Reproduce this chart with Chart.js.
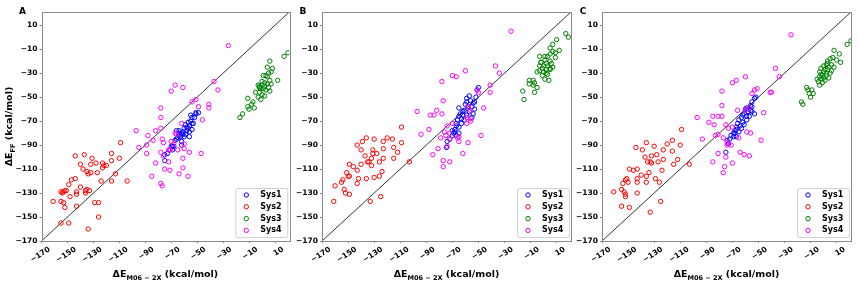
<!DOCTYPE html>
<html>
<head>
<meta charset="utf-8">
<script src="https://cdn.jsdelivr.net/npm/chart.js@4.4.1/dist/chart.umd.min.js"></script>
<style>
  body { margin: 0; background: #fff; width: 859px; height: 286px; position: relative; overflow: hidden; }
  canvas { position: absolute; top: 0; }
</style>
</head>
<body>
<canvas id="chartA" width="291" height="286" style="left:0px"></canvas>
<canvas id="chartB" width="281" height="286" style="left:292px"></canvas>
<canvas id="chartC" width="286" height="286" style="left:573px"></canvas>
<script>
// Axis setup (same for all three panels)
const AXIS_MIN = -170;
const AXIS_MAX = 21;
const TICKS = [-170, -150, -130, -110, -90, -70, -50, -30, -10, 10];
const SERIES_NAMES = ['Sys1', 'Sys2', 'Sys3', 'Sys4'];
const SERIES_COLORS = ['#0000ff', '#ff0000', '#008000', '#ff00ff'];

// Panel A  [x = dE M06-2X, y = dE FF]
const A_SYS1 = [[-75,-103],[-75,-98],[-73,-97],[-71,-94],[-70,-91],[-69,-94],[-68,-91],[-67,-86],[-66,-78],[-65,-84],
  [-64,-82],[-64,-78],[-62,-87],[-62,-90],[-61,-81],[-61,-79],[-60,-76],[-59,-81],[-59,-73],[-58,-78],[-57,-76],
  [-56,-79],[-56,-74],[-56,-83],[-55,-65],[-55,-70],[-54,-67],[-54,-77],[-53,-72],[-52,-67],[-51,-64],[-51,-63],
  [-49,-63],[-60,-83],[-64,-80],[-66,-85],[-69,-91],[-58,-75],[-54,-72],[-62,-80],[-63,-83],[-57,-71]];
const A_SYS2 = [[-161,-137],[-155,-155],[-155,-137],[-155,-129],[-154,-130],[-153,-129],[-152,-128],[-152,-142],[-153,-138],
  [-151,-128],[-149,-155],[-149,-123],[-148,-133],[-147,-119],[-144,-99],[-144,-118],[-143,-129],[-143,-131],[-143,-141],
  [-140,-106],[-140,-125],[-138,-110],[-137,-98],[-136,-128],[-136,-130],[-135,-112],[-135,-127],[-134,-114],[-134,-160],
  [-133,-128],[-132,-113],[-132,-106],[-131,-101],[-129,-138],[-128,-105],[-127,-113],[-126,-138],[-126,-150],[-124,-120],
  [-123,-105],[-123,-109],[-122,-107],[-120,-107],[-116,-97],[-116,-103],[-116,-120],[-113,-114],[-110,-101],[-109,-88],
  [-104,-120]];
const A_SYS3 = [[20,-13],[17,-16],[6,-20],[4,-25],[8,-26],[7,-29],[1,-32],[4,-33],[6,-36],[12,-36],[0,-37],[2,-38],
  [4,-39],[7,-39],[-2,-41],[0,-40],[2,-41],[5,-42],[-2,-42],[-1,-43],[1,-43],[3,-44],[6,-45],[-5,-46],[-2,-46],
  [0,-48],[2,-49],[-3,-50],[-1,-52],[-11,-51],[-7,-54],[-8,-56],[-11,-58],[-6,-59],[-10,-60],[-15,-64],[-17,-67],
  [3,-32],[-3,-40],[5,-30]];
const A_SYS4 = [[-26,-7],[-37,-37],[-34,-44],[-41,-56],[-41,-59],[-49,-58],[-51,-52],[-54,-54],[-46,-69],[-47,-97],
  [-56,-96],[-57,-116],[-61,-101],[-61,-109],[-64,-114],[-61,-42],[-67,-40],[-70,-45],[-78,-59],[-78,-67],[-78,-76],
  [-82,-78],[-88,-82],[-97,-78],[-95,-92],[-89,-90],[-89,-97],[-84,-86],[-82,-105],[-85,-116],[-78,-122],[-77,-124],
  [-77,-85],[-76,-88],[-78,-96],[-76,-99],[-75,-110],[-71,-111],[-72,-104],[-71,-94],[-70,-87],[-68,-89],[-67,-80],
  [-65,-94],[-62,-72],[-60,-89],[-60,-93],[-72,-94],[-66,-81]];

// Panel B
const B_SYS1 = [[-74.5,-92],[-74,-87],[-72,-85],[-70,-82],[-69,-80],[-68,-77],[-67,-74],[-67,-72],[-66,-69],[-65,-66],
  [-64,-64],[-65,-59],[-63,-68],[-62,-62],[-61,-61],[-60,-56],[-59,-54],[-59,-51],[-57,-49],[-56,-53],[-55,-58],
  [-54,-55],[-53,-54],[-52,-50],[-50,-42],[-51,-44],[-54,-64],[-57,-62],[-59,-65],[-61,-69],[-63,-72],[-65,-75],
  [-68,-79],[-70,-78],[-67,-82],[-65,-80],[-55,-67],[-58,-58],[-53,-60],[-62,-65]];
const B_SYS2 = [[-160,-124],[-161,-137],[-155,-121],[-154,-119],[-153,-127],[-152,-130],[-151,-113],[-150,-116],[-149,-131],
  [-149,-116],[-149,-106],[-146,-108],[-143,-90],[-143,-111],[-143,-122],[-142,-118],[-139,-87],[-140,-106],[-137,-99],
  [-136,-84],[-136,-118],[-135,-104],[-134,-104],[-133,-137],[-132,-107],[-132,-101],[-131,-97],[-130,-85],[-130,-117],
  [-128,-97],[-126,-104],[-126,-116],[-125,-133],[-124,-112],[-123,-87],[-123,-93],[-123,-101],[-120,-84],[-116,-85],
  [-115,-92],[-115,-101],[-112,-96],[-109,-88],[-109,-75],[-103,-104],[-131,-94],[-140,-94]];
const B_SYS3 = [[17,3],[19,0],[10,-2],[7,-6],[12,-11],[5,-9],[7,-12],[9,-13],[5,-14],[1,-16],[-3,-16],[3,-16],[9,-17],
  [1,-19],[5,-20],[-2,-21],[2,-22],[6,-22],[-3,-24],[0,-24],[3,-24],[7,-25],[-1,-26],[-3,-28],[2,-27],[5,-27],
  [-5,-29],[0,-29],[2,-30],[-1,-32],[3,-31],[1,-35],[4,-36],[-8,-36],[-11,-36],[-7,-38],[-8,-40],[-11,-39],[-5,-42],
  [-7,-46],[-16,-45],[-15,-52],[5,-26],[-2,-21]];
const B_SYS4 = [[-25,5],[-37,-24],[-34,-30],[-60,-28],[-70,-32],[-67,-33],[-78,-37],[-77,-53],[-51,-44],[-50,-46],
  [-41,-40],[-41,-46],[-46,-59],[-48,-82],[-58,-88],[-62,-97],[-72,-104],[-77,-103],[-77,-108],[-85,-98],[-81,-93],
  [-74,-91],[-76,-79],[-74,-74],[-75,-82],[-79,-84],[-72,-85],[-72,-80],[-70,-72],[-66,-84],[-65,-87],[-65,-83],
  [-59,-67],[-59,-72],[-56,-70],[-56,-61],[-58,-58],[-78,-64],[-82,-61],[-84,-65],[-87,-65],[-88,-77],[-97,-62],
  [-94,-81],[-56,-68]];

// Panel C
const C_SYS1 = [[-75,-96],[-74,-86],[-73,-89],[-72,-85],[-69,-83],[-68,-80],[-68,-78],[-67,-75],[-66,-72],[-65,-69],
  [-63,-67],[-62,-65],[-61,-64],[-60,-60],[-59,-59],[-58,-62],[-56,-57],[-55,-54],[-53,-51],[-52,-50],[-55,-58],
  [-53,-64],[-57,-66],[-59,-69],[-62,-71],[-64,-74],[-67,-77],[-69,-80],[-65,-79],[-63,-76],[-56,-61],[-67,-83],
  [-71,-82],[-59,-66],[-55,-62],[-61,-73]];
const C_SYS2 = [[-161,-129],[-155,-141],[-155,-127],[-154,-122],[-153,-129],[-152,-131],[-152,-133],[-152,-119],[-151,-118],
  [-150,-121],[-149,-110],[-149,-142],[-146,-111],[-144,-92],[-143,-110],[-143,-118],[-143,-121],[-143,-130],[-140,-115],
  [-139,-94],[-137,-100],[-136,-116],[-136,-88],[-136,-121],[-135,-104],[-134,-113],[-133,-146],[-133,-104],[-132,-99],
  [-132,-105],[-130,-91],[-129,-118],[-128,-98],[-127,-104],[-126,-121],[-125,-137],[-124,-111],[-123,-102],[-123,-94],
  [-120,-89],[-116,-86],[-116,-95],[-115,-106],[-112,-102],[-110,-90],[-109,-77],[-103,-106]];
const C_SYS3 = [[18,-6],[21,-3],[8,-11],[12,-14],[5,-18],[7,-17],[10,-19],[3,-20],[13,-21],[6,-23],[0,-24],[2,-23],
  [4,-25],[8,-25],[-2,-26],[1,-27],[3,-27],[6,-28],[-3,-29],[0,-29],[2,-30],[5,-30],[-1,-32],[2,-32],[-3,-33],
  [0,-34],[4,-34],[-5,-35],[-2,-35],[1,-36],[-4,-37],[-1,-38],[-3,-40],[-13,-42],[-12,-44],[-9,-44],[-11,-47],
  [-8,-47],[-10,-50],[-17,-54],[-16,-56],[3,-22],[-2,-31]];
const C_SYS4 = [[-25,2],[-37,-26],[-34,-33],[-60,-33],[-67,-36],[-70,-38],[-78,-45],[-78,-57],[-53,-44],[-51,-43],
  [-41,-46],[-40,-46],[-46,-63],[-48,-86],[-57,-99],[-61,-98],[-64,-96],[-70,-105],[-76,-108],[-77,-113],[-85,-104],
  [-81,-97],[-75,-100],[-74,-90],[-77,-84],[-74,-88],[-71,-90],[-73,-76],[-75,-73],[-70,-75],[-65,-84],[-59,-79],
  [-56,-80],[-60,-61],[-57,-59],[-85,-66],[-81,-66],[-78,-66],[-88,-71],[-84,-73],[-83,-82],[-81,-81],[-93,-85],
  [-97,-67],[-55,-47],[-66,-61]];

const FONT = '"DejaVu Sans", sans-serif';

function fmt(v) {
    return String(v).replace('-', '\u2212');
}

// draws "main" + subscript + rest, centred on (cx, y)
function drawSubText(ctx, main, sub, rest, cx, y) {
    const big = 'bold 9.5px ' + FONT;
    const small = 'bold 6.5px ' + FONT;
    ctx.font = big;
    const w1 = ctx.measureText(main).width;
    const w3 = ctx.measureText(rest).width;
    ctx.font = small;
    const w2 = ctx.measureText(sub).width;
    let x = cx - (w1 + w2 + w3) / 2;
    ctx.textAlign = 'left';
    ctx.textBaseline = 'alphabetic';
    ctx.font = big;
    ctx.fillText(main, x, y);
    x += w1;
    ctx.font = small;
    ctx.fillText(sub, x, y + 2.5);
    x += w2;
    ctx.font = big;
    ctx.fillText(rest, x, y);
}

const panelPlugin = {
    id: 'panel',
    afterDraw(chart, args, o) {
        const ctx = chart.ctx;
        const a = chart.chartArea;
        ctx.save();

        // frame
        ctx.strokeStyle = '#8a8a8a';
        ctx.lineWidth = 1;
        ctx.strokeRect(Math.round(a.left) + 0.5, Math.round(a.top) + 0.5,
            Math.round(a.right - a.left), Math.round(a.bottom - a.top));

        // panel letter
        ctx.fillStyle = '#000';
        ctx.font = 'bold 9px ' + FONT;
        ctx.textAlign = 'center';
        ctx.textBaseline = 'middle';
        ctx.fillText(o.letter, a.left - 19, 12);

        // axis titles
        drawSubText(ctx, '\u0394E', 'M06 \u2212 2X', ' (kcal/mol)', (a.left + a.right) / 2, 277);
        if (o.yTitle) {
            ctx.save();
            ctx.translate(12, (a.top + a.bottom) / 2);
            ctx.rotate(-Math.PI / 2);
            drawSubText(ctx, '\u0394E', 'FF', ' (kcal/mol)', 0, 0);
            ctx.restore();
        }

        // legend, lower right inside the axes
        const w = 52, h = 49;
        const L = a.right - 2 - w, T = a.bottom - 4 - h;
        ctx.fillStyle = 'rgba(255,255,255,0.85)';
        ctx.strokeStyle = '#d0d0d0';
        ctx.beginPath();
        ctx.roundRect(L + 0.5, T + 0.5, w, h, 2);
        ctx.fill();
        ctx.stroke();
        const items = chart.data.datasets.filter(d => d.label);
        items.forEach((d, i) => {
            const yy = T + 7 + i * 11.8;
            ctx.strokeStyle = d.borderColor;
            ctx.lineWidth = 1;
            ctx.beginPath();
            ctx.arc(L + 11, yy, 2.2, 0, Math.PI * 2);
            ctx.stroke();
            ctx.fillStyle = '#000';
            ctx.font = 'bold 8px ' + FONT;
            ctx.textAlign = 'left';
            ctx.textBaseline = 'middle';
            ctx.fillText(d.label, L + 25, yy);
        });
        ctx.restore();
    }
};

function makePanel(id, letter, series, yWidth, rightPad, yTitle) {
    const datasets = [{
        type: 'line',
        data: [{ x: AXIS_MIN, y: AXIS_MIN }, { x: AXIS_MAX, y: AXIS_MAX }],
        borderColor: '#000',
        borderWidth: 0.8,
        pointRadius: 0,
        order: 10
    }];
    series.forEach((pts, i) => {
        datasets.push({
            label: SERIES_NAMES[i],
            data: pts.map(p => ({ x: p[0], y: p[1] })),
            borderColor: SERIES_COLORS[i],
            backgroundColor: 'rgba(0,0,0,0)',
            borderWidth: 1,
            pointRadius: 2.2,
            pointHoverRadius: 2.2,
            order: 5 - i
        });
    });

    const tickFont = { family: FONT, size: 7.5, weight: 'bold' };
    const gridOpts = { drawOnChartArea: false, drawTicks: true, tickLength: 2, color: '#8a8a8a' };

    new Chart(document.getElementById(id), {
        type: 'scatter',
        data: { datasets: datasets },
        plugins: [panelPlugin],
        options: {
            responsive: false,
            animation: false,
            events: [],
            layout: { autoPadding: false, padding: { left: 0, top: 12, right: rightPad, bottom: 0 } },
            plugins: {
                legend: { display: false },
                tooltip: { enabled: false },
                panel: { letter: letter, yTitle: yTitle }
            },
            scales: {
                x: {
                    type: 'linear',
                    min: AXIS_MIN,
                    max: AXIS_MAX,
                    afterBuildTicks: s => { s.ticks = TICKS.map(v => ({ value: v })); },
                    afterFit: s => { s.height = 45; },
                    grid: gridOpts,
                    border: { display: false },
                    ticks: {
                        autoSkip: false, minRotation: 33, maxRotation: 33, labelOffset: 8, padding: 2,
                        color: '#000', font: tickFont, callback: v => fmt(v)
                    }
                },
                y: {
                    type: 'linear',
                    min: AXIS_MIN,
                    max: AXIS_MAX,
                    afterBuildTicks: s => { s.ticks = TICKS.map(v => ({ value: v })); },
                    afterFit: s => { s.width = yWidth; },
                    grid: gridOpts,
                    border: { display: false },
                    ticks: { autoSkip: false, padding: 2, color: '#000', font: tickFont, callback: v => fmt(v) }
                }
            }
        }
    });
}

makePanel('chartA', 'A', [A_SYS1, A_SYS2, A_SYS3, A_SYS4], 41.5, 1.7, true);
makePanel('chartB', 'B', [B_SYS1, B_SYS2, B_SYS3, B_SYS4], 30, 2, false);
makePanel('chartC', 'C', [C_SYS1, C_SYS2, C_SYS3, C_SYS4], 29, 8, false);
</script>
</body>
</html>
